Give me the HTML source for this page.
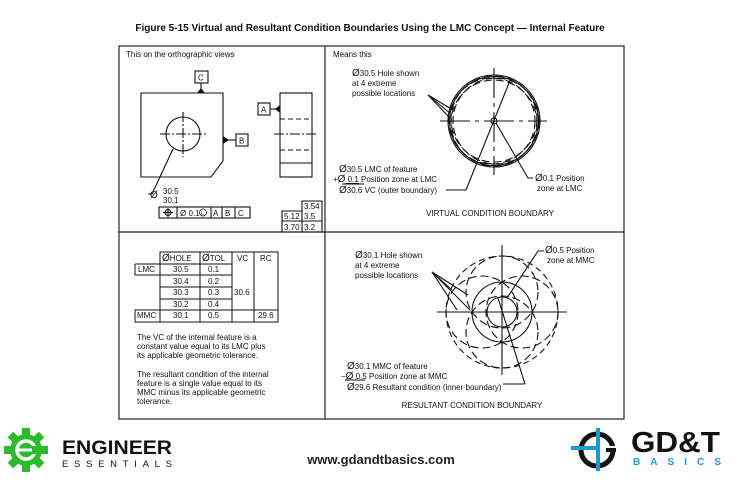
<!DOCTYPE html>
<html><head><meta charset="utf-8"><style>
html,body{margin:0;padding:0;background:#fff;width:736px;height:480px;overflow:hidden}
svg{display:block}
text{font-family:"Liberation Sans",sans-serif;fill:#111}
</style></head><body>
<svg width="736" height="480" viewBox="0 0 736 480" xmlns="http://www.w3.org/2000/svg">
<text x="370" y="31" text-anchor="middle" font-size="10" font-weight="bold">Figure 5-15 Virtual and Resultant Condition Boundaries Using the LMC Concept — Internal Feature</text>
<g stroke="#222" fill="none" stroke-width="1.2">
<rect x="119" y="46" width="505" height="373"/>
<line x1="325" y1="46" x2="325" y2="419"/>
<line x1="119" y1="232" x2="624" y2="232"/>
</g>
<g font-size="8">
<!-- top-left -->
<text x="126" y="57">This on the orthographic views</text>
<g stroke="#111" fill="none" stroke-width="1.1">
<path d="M141,93 H223 V161 L211,177 H141 Z"/>
<circle cx="183" cy="134" r="17"/>
<line x1="160" y1="134" x2="206" y2="134" stroke-dasharray="10,2,2,2"/>
<line x1="183" y1="112" x2="183" y2="157" stroke-dasharray="10,2,2,2"/>
<rect x="195" y="71" width="13" height="12"/><line x1="201" y1="83" x2="201" y2="89"/>
<rect x="236" y="134" width="12" height="12"/><line x1="228" y1="140" x2="236" y2="140"/>
<rect x="280" y="93" width="32" height="84"/><line x1="280" y1="163" x2="312" y2="163"/>
<line x1="280" y1="119" x2="312" y2="119" stroke-dasharray="5,3"/>
<line x1="280" y1="150" x2="312" y2="150" stroke-dasharray="5,3"/>
<line x1="274" y1="134" x2="316" y2="134" stroke-dasharray="10,2,2,2"/>
<rect x="258" y="103" width="12" height="12"/><line x1="270" y1="109" x2="276" y2="109"/>
<polyline points="173,149 152,194 148,194"/>
<rect x="159" y="207" width="91" height="11"/>
<line x1="177" y1="207" x2="177" y2="218"/><line x1="211" y1="207" x2="211" y2="218"/><line x1="222" y1="207" x2="222" y2="218"/><line x1="235" y1="207" x2="235" y2="218"/>
<circle cx="168" cy="212.5" r="3"/><line x1="163" y1="212.5" x2="173" y2="212.5"/><line x1="168" y1="208" x2="168" y2="217"/>
<circle cx="203" cy="212.5" r="3.5" stroke-width="0.8"/>
<path d="M302,201 H322 V232 H282 V211 H302 Z M282,221 H322 M302,211 V232"/>
</g>
<path d="M197,93 L201,88 L205,93z M223,136 L229,140 L223,144z M280,105 L275,109 L280,113z" fill="#111"/>
<text x="198" y="80.5">C</text><text x="239" y="143.5">B</text><text x="261" y="112.5">A</text>
<text x="150" y="198" font-size="10">Ø</text><text x="163" y="194">30.5</text><text x="163" y="203">30,1</text>
<text x="180" y="216">Ø 0.1</text><text x="201" y="215" font-size="5.5">L</text><text x="213" y="216">A</text><text x="225" y="216">B</text><text x="238" y="216">C</text>
<text x="304" y="209">3.54</text><text x="284" y="219">5.12</text><text x="304" y="219">3.5</text><text x="284" y="230">3.70</text><text x="304" y="230">3.2</text>

<!-- top-right -->
<text x="333" y="57">Means this</text>
<g stroke="#111" fill="none" stroke-width="1.1">
<circle cx="494" cy="121" r="46"/>
<circle cx="494" cy="121" r="44.5"/>
<circle cx="492" cy="121" r="43" stroke-dasharray="8,4"/>
<circle cx="496" cy="121" r="43" stroke-dasharray="8,4"/>
<circle cx="494" cy="119" r="43" stroke-dasharray="8,4"/>
<circle cx="494" cy="123" r="43" stroke-dasharray="8,4"/>
<line x1="440" y1="121" x2="547" y2="121" stroke-dasharray="30,5,4,5"/>
<line x1="494" y1="68" x2="494" y2="175" stroke-dasharray="30,5,4,5"/>
<circle cx="494" cy="121" r="3"/>
<line x1="511" y1="78" x2="466" y2="190"/>
<polyline points="496,123 528,178 533,178"/>
<polyline points="466,190 446,190"/>
<line x1="428" y1="95" x2="453" y2="110"/><line x1="428" y1="95" x2="451" y2="114"/><line x1="428" y1="95" x2="449" y2="117"/>
</g>
<text x="352" y="76"><tspan font-size="10">Ø</tspan>30.5 Hole shown</text>
<text x="352" y="86">at 4 extreme</text>
<text x="352" y="96">possible locations</text>
<text x="339" y="172"><tspan font-size="10">Ø</tspan>30.5 LMC of feature</text>
<text x="333" y="182">+<tspan font-size="10">Ø</tspan><tspan text-decoration="underline">  0.1</tspan> Position zone at LMC</text>
<text x="339" y="193"><tspan font-size="10">Ø</tspan>30.6 VC (outer boundary)</text>
<line x1="342" y1="184" x2="364" y2="184" stroke="#111"/>
<text x="535" y="181"><tspan font-size="10">Ø</tspan>0.1 Position</text>
<text x="537" y="191">zone at LMC</text>
<text x="490" y="216" text-anchor="middle">VIRTUAL CONDITION BOUNDARY</text>

<!-- bottom-right -->
<g stroke="#111" fill="none" stroke-width="1.1">
<circle cx="502" cy="312" r="56" stroke-dasharray="6,4"/>
<circle cx="502" cy="292" r="36" stroke-dasharray="8,4"/>
<circle cx="502" cy="332" r="36" stroke-dasharray="8,4"/>
<circle cx="482" cy="312" r="36" stroke-dasharray="8,4"/>
<circle cx="522" cy="312" r="36" stroke-dasharray="8,4"/>
<circle cx="502" cy="312" r="30"/>
<circle cx="502" cy="312" r="15"/>
<line x1="437" y1="312" x2="567" y2="312"/>
<line x1="502" y1="245" x2="502" y2="375"/>
<line x1="498" y1="298" x2="525" y2="384"/>
<polyline points="507,298 538,251 544,251"/>
<polyline points="525,384 503,384"/>
<line x1="432" y1="272" x2="452" y2="290"/><line x1="432" y1="272" x2="468" y2="295"/><line x1="432" y1="272" x2="457" y2="310"/><line x1="432" y1="272" x2="470" y2="310"/>
<line x1="345" y1="380" x2="365" y2="380"/>
</g>
<text x="355" y="258"><tspan font-size="10">Ø</tspan>30.1 Hole shown</text>
<text x="355" y="268">at 4 extreme</text>
<text x="355" y="278">possible locations</text>
<text x="545" y="253"><tspan font-size="10">Ø</tspan>0.5 Position</text>
<text x="547" y="263">zone at MMC</text>
<text x="347" y="369"><tspan font-size="10">Ø</tspan>30.1 MMC of feature</text>
<text x="341" y="379">−<tspan font-size="10">Ø</tspan>  0.5 Position zone at MMC</text>
<text x="347" y="390"><tspan font-size="10">Ø</tspan>29.6 Resultant condition (inner boundary)</text>
<text x="472" y="408" text-anchor="middle">RESULTANT CONDITION BOUNDARY</text>

<!-- bottom-left -->
<g stroke="#111" fill="none" stroke-width="1">
<path d="M160,252 H278 V322 H135 V310 H160 Z M135,264 H232 M160,275 H232 M160,287 H232 M160,299 H232 M135,310 H278 M135,264 V275 H160 M200,252 V322 M232,252 V322 M254,252 V322 M160,252 V322"/>
</g>
<text x="162" y="261"><tspan font-size="10">Ø</tspan>HOLE</text><text x="202" y="261"><tspan font-size="10">Ø</tspan>TOL</text><text x="237" y="261">VC</text><text x="260" y="261">RC</text>
<text x="138" y="272">LMC</text><text x="173" y="272">30.5</text><text x="208" y="272">0.1</text>
<text x="173" y="284">30.4</text><text x="208" y="284">0.2</text>
<text x="173" y="295">30.3</text><text x="208" y="295">0.3</text><text x="234" y="295">30.6</text>
<text x="173" y="307">30.2</text><text x="208" y="307">0.4</text>
<text x="137" y="318">MMC</text><text x="173" y="318">30.1</text><text x="208" y="318">0.5</text><text x="258" y="318">29.6</text>
<text x="137" y="340">The VC of the internal feature is a</text>
<text x="137" y="349">constant value equal to its LMC plus</text>
<text x="137" y="358">its applicable geometric tolerance.</text>
<text x="137" y="377">The resultant condition of the internal</text>
<text x="137" y="386">feature is a single value equal to its</text>
<text x="137" y="395">MMC minus its applicable geometric</text>
<text x="137" y="404">tolerance.</text>
</g>

<!-- logos -->
<g fill="#2dbb2d">
<circle cx="26" cy="450" r="16"/>
<g transform="translate(26,450)">
<rect x="-4" y="-22" width="8" height="44"/><rect x="-22" y="-4" width="44" height="8"/>
<rect x="-4" y="-22" width="8" height="44" transform="rotate(45)"/><rect x="-4" y="-22" width="8" height="44" transform="rotate(-45)"/>
</g>
</g>
<circle cx="26" cy="450" r="9" fill="none" stroke="#fff" stroke-width="3.5"/>
<rect x="26" y="446" width="12" height="8" fill="#2dbb2d"/>
<rect x="18" y="448.5" width="14" height="3" fill="#fff"/>
<text x="62" y="454" font-size="19" font-weight="bold" style="fill:#111" textLength="110" lengthAdjust="spacingAndGlyphs">ENGINEER</text>
<text x="62" y="467" font-size="9.5" style="fill:#111" textLength="110">ESSENTIALS</text>
<text x="381" y="464" text-anchor="middle" font-size="13" font-weight="bold" style="fill:#222">www.gdandtbasics.com</text>
<circle cx="597" cy="450" r="16" fill="none" stroke="#111" stroke-width="5"/>
<rect x="606" y="446" width="14" height="6" fill="#fff"/>
<rect x="606" y="448" width="10" height="4" fill="#111"/>
<rect x="571" y="446" width="28" height="4" fill="#1a9ad6"/>
<rect x="596" y="428" width="4" height="43" fill="#1a9ad6"/>
<text x="631" y="452" font-size="29" font-weight="bold" style="fill:#111" textLength="89" lengthAdjust="spacingAndGlyphs">GD&amp;T</text>
<text x="633" y="465" font-size="10" font-weight="bold" style="fill:#1a9ad6" textLength="88">BASICS</text>
</svg>
</body></html>
